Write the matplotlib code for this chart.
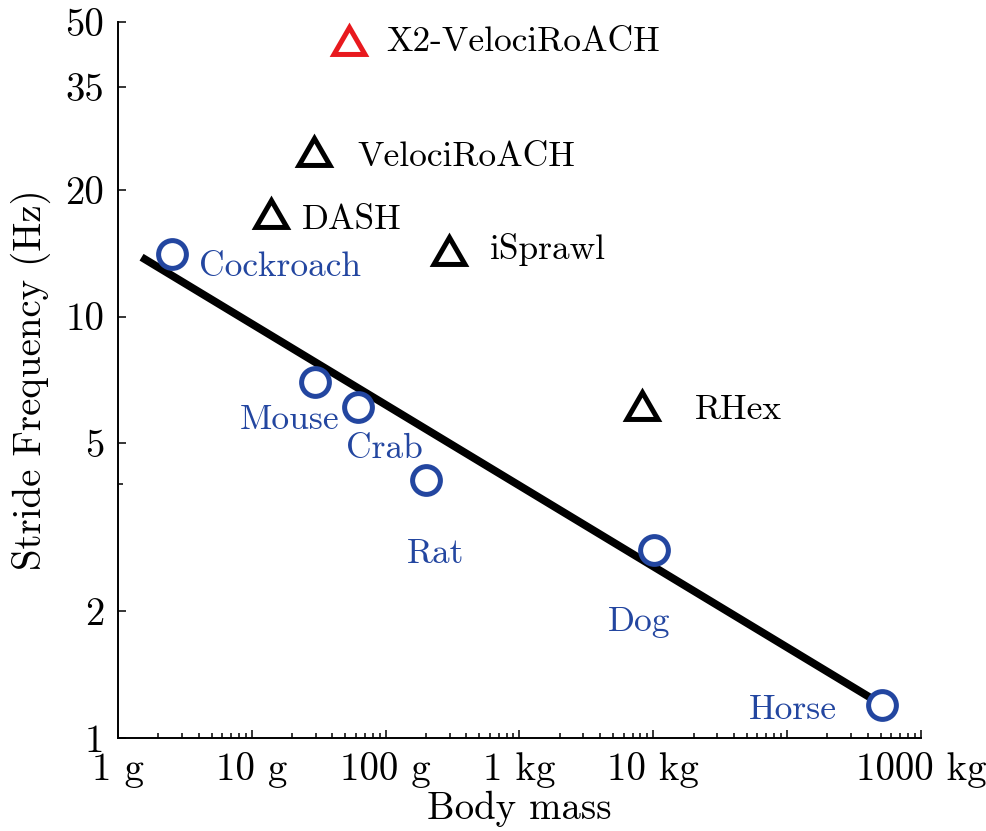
import numpy as np
import matplotlib
matplotlib.use("Agg")
from matplotlib import pyplot as plt
from matplotlib import ticker

# animals (blue circles)
animal_names = ["Cockroach", "Mouse", "Crab", "Rat", "Dog", "Horse"]
animal_mass_kg = [0.00255, 0.0297, 0.0625, 0.2, 10.1, 510]
animal_freq_hz = [14.1, 6.98, 6.11, 4.1, 2.79, 1.20]

# robots (black triangles)
robot_names = ["DASH", "VelociRoACH", "iSprawl", "RHex"]
robot_mass_kg = [0.0138, 0.0289, 0.298, 8.2]
robot_freq_hz = [17.1, 24.0, 14.0, 6.0]

# new robot (red triangle)
new_name = "X2-VelociRoACH"
new_mass_kg = [0.0532]
new_freq_hz = [44.1]

# scaling line
fit_mass_kg = [0.0015, 510]
fit_freq_hz = [13.83, 1.20]

x_ticks = [1e-3, 1e-2, 1e-1, 1, 10, 100, 1000]
x_tick_labels = ["1 g", "10 g", "100 g", "1 kg", "10 kg", "", "1000 kg"]
y_ticks = [1, 2, 5, 10, 20, 35, 50]

# label offsets from the marker, in pixels (x right, y up)
label_off = {
    "Cockroach": (26.7, -22.7), "Mouse": (-75.7, -46.7), "Crab": (-12.3, -51.6),
    "Rat": (-19, -83.3), "Dog": (-46.4, -80.7), "Horse": (-133.4, -14),
    "DASH": (31, -10.3), "VelociRoACH": (43.4, -10), "iSprawl": (40.3, -3.6),
    "RHex": (53.3, -9.3), "X2-VelociRoACH": (37, -6),
}

blue = "#2346a0"
red = "#e8191e"
plt.rcParams["font.family"] = ["cmr10", "DejaVu Serif"]
plt.rcParams["axes.formatter.use_mathtext"] = True

fig = plt.figure(figsize=(9.87, 8.31), dpi=100)
ax = fig.add_axes([118 / 987, 93 / 831, 803 / 987, 716 / 831])
ax.set_xscale("log")
ax.set_yscale("log")

ax.plot(fit_mass_kg, fit_freq_hz, color="k", lw=5.6, solid_capstyle="butt", zorder=2)
ax.plot(animal_mass_kg, animal_freq_hz, ls="none", marker="o", ms=20, mew=3.6,
        mec=blue, mfc="white", zorder=3)
ax.plot(robot_mass_kg, robot_freq_hz, ls="none", marker=(3, 0, 0), ms=25.8, mew=3.6,
        mec="k", mfc="white", zorder=3)
ax.plot(new_mass_kg, new_freq_hz, ls="none", marker=(3, 0, 0), ms=25.8, mew=3.6,
        mec=red, mfc="white", zorder=3)

def put_label(name, m, f, color):
    dx, dy = label_off[name]
    ax.annotate(name, (m, f), xytext=(dx * 0.72, dy * 0.72), textcoords="offset points",
                ha="left", va="baseline", fontsize=25.5, color=color)

for n, m, f in zip(animal_names, animal_mass_kg, animal_freq_hz):
    put_label(n, m, f, blue)
for n, m, f in zip(robot_names, robot_mass_kg, robot_freq_hz):
    put_label(n, m, f, "k")
put_label(new_name, new_mass_kg[0], new_freq_hz[0], "k")

ax.set_xlim(1e-3, 1e3)
ax.set_ylim(1, 50)
ax.set_xticks(x_ticks)
ax.set_xticklabels(x_tick_labels)
ax.xaxis.set_minor_locator(ticker.LogLocator(base=10, subs=np.arange(2, 10)))
ax.xaxis.set_minor_formatter(ticker.NullFormatter())
ax.set_yticks(y_ticks)
ax.set_yticklabels([str(v) for v in y_ticks])
ax.yaxis.set_minor_locator(ticker.FixedLocator([4]))
ax.yaxis.set_minor_formatter(ticker.NullFormatter())

ax.tick_params(which="both", direction="in", labelsize=28, width=1.1)
ax.tick_params(which="major", length=6, pad=10)
ax.tick_params(which="minor", length=3.3)
for s in ["top", "right"]:
    ax.spines[s].set_visible(False)
for s in ["left", "bottom"]:
    ax.spines[s].set_linewidth(1.4)

ax.set_xlabel("Body mass", fontsize=28, labelpad=2)
ax.set_ylabel("Stride Frequency (Hz)", fontsize=28, labelpad=10)

fig.savefig("out.png", dpi=100)
